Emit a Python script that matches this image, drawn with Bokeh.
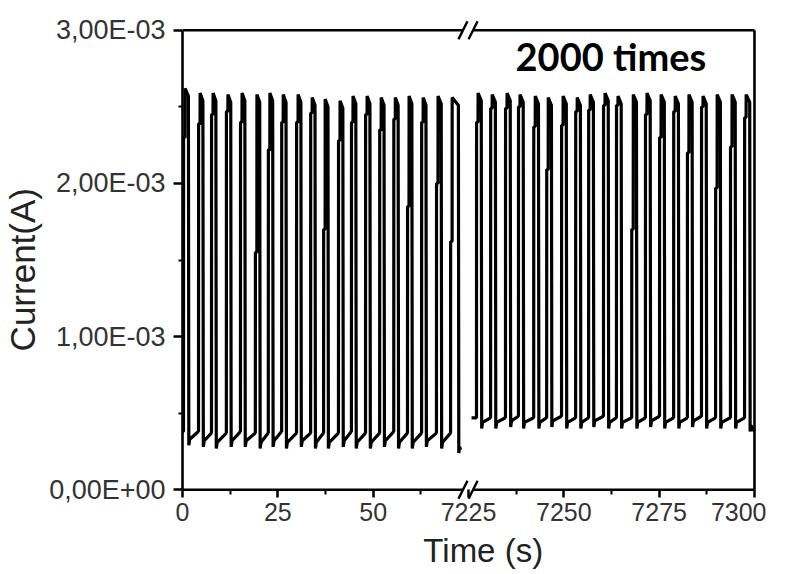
import numpy as np
from bokeh.plotting import figure
from bokeh.models import (FixedTicker, CustomJSTickFormatter, Range1d, Label)
from bokeh.embed import file_html
from bokeh.resources import INLINE

# ---------------- data ----------------
# Segment 1: 0 .. ~73 s   (current in A)
seg1_start = [0.26, 4.2, 7.6, 11.5, 15.2, 19.1, 22.5, 26.0, 29.9, 33.6,
              37.0, 40.9, 44.3, 48.0, 51.7, 55.4, 59.0, 62.7, 66.6, 70.3]
seg1_fall = [1.6, 5.4, 8.8, 12.7, 16.4, 20.3, 23.7, 27.2, 31.1, 34.8,
             38.2, 42.1, 45.5, 49.2, 52.9, 56.6, 60.2, 63.9, 67.9, 72.4]
seg1_mid = [2.30e-3, 2.39e-3, 2.45e-3, 2.47e-3, 2.40e-3, 1.55e-3, 2.22e-3, 2.40e-3, 2.40e-3, 2.46e-3,
            1.70e-3, 2.28e-3, 2.40e-3, 2.45e-3, 2.35e-3, 2.42e-3, 1.85e-3, 2.40e-3, 2.00e-3, 1.62e-3]
seg1_peak = [2.62e-3, 2.59e-3, 2.59e-3, 2.58e-3, 2.59e-3, 2.58e-3, 2.59e-3, 2.58e-3, 2.58e-3, 2.56e-3,
             2.55e-3, 2.54e-3, 2.57e-3, 2.57e-3, 2.56e-3, 2.56e-3, 2.57e-3, 2.56e-3, 2.57e-3, 2.56e-3]
seg1_low = [0.29e-3, 0.28e-3, 0.27e-3, 0.28e-3, 0.28e-3, 0.27e-3, 0.28e-3, 0.27e-3, 0.28e-3, 0.27e-3,
            0.27e-3, 0.28e-3, 0.27e-3, 0.27e-3, 0.28e-3, 0.27e-3, 0.27e-3, 0.28e-3, 0.27e-3, 0.24e-3]
seg1_rec = [0.38e-3, 0.37e-3, 0.37e-3, 0.38e-3, 0.37e-3, 0.37e-3, 0.38e-3, 0.37e-3, 0.37e-3, 0.37e-3,
            0.37e-3, 0.38e-3, 0.37e-3, 0.37e-3, 0.38e-3, 0.37e-3, 0.37e-3, 0.37e-3, 0.37e-3, 0.26e-3]
seg1_end = 72.9

# Segment 2: 7225 .. 7300 s
seg2_start = [7227.1, 7230.8, 7234.7, 7238.1, 7242.1, 7245.5, 7249.4, 7253.1, 7256.5, 7260.4,
              7263.8, 7267.8, 7271.4, 7275.1, 7278.8, 7282.4, 7286.1, 7289.8, 7293.7, 7297.4]
seg2_fall = [7228.4, 7232.1, 7236.0, 7239.4, 7243.4, 7246.8, 7250.7, 7254.4, 7257.8, 7261.7,
             7265.1, 7269.1, 7272.7, 7276.4, 7280.1, 7283.7, 7287.4, 7291.1, 7295.0, 7298.8]
seg2_mid = [2.40e-3, 2.49e-3, 2.49e-3, 2.50e-3, 2.37e-3, 2.09e-3, 2.38e-3, 2.47e-3, 2.48e-3, 2.51e-3,
            2.51e-3, 1.70e-3, 2.45e-3, 2.30e-3, 2.47e-3, 2.20e-3, 2.50e-3, 1.97e-3, 2.24e-3, 2.43e-3]
seg2_peak = [2.59e-3, 2.58e-3, 2.59e-3, 2.58e-3, 2.57e-3, 2.56e-3, 2.57e-3, 2.56e-3, 2.58e-3, 2.59e-3,
             2.57e-3, 2.58e-3, 2.59e-3, 2.58e-3, 2.57e-3, 2.58e-3, 2.57e-3, 2.58e-3, 2.58e-3, 2.58e-3]
seg2_low = [0.40e-3, 0.40e-3, 0.41e-3, 0.40e-3, 0.40e-3, 0.41e-3, 0.40e-3, 0.40e-3, 0.41e-3, 0.40e-3,
            0.40e-3, 0.40e-3, 0.41e-3, 0.40e-3, 0.40e-3, 0.41e-3, 0.40e-3, 0.40e-3, 0.40e-3, 0.38e-3]
seg2_rec = [0.47e-3, 0.47e-3, 0.48e-3, 0.47e-3, 0.47e-3, 0.48e-3, 0.47e-3, 0.47e-3, 0.48e-3, 0.47e-3,
            0.47e-3, 0.47e-3, 0.48e-3, 0.47e-3, 0.47e-3, 0.48e-3, 0.47e-3, 0.47e-3, 0.47e-3, 0.38e-3]
seg2_end = 7300.0

x_tick_values = [0, 25, 50, 7225, 7250, 7275, 7300]
y_tick_values = [0.0, 1e-3, 2e-3, 3e-3]
BREAK_SHIFT = 7150  # broken axis: 7225 s sits where 75 s would be
X_MAX = 150.0        # 7300 s on the broken axis
Y_MAX = 3e-3

# ---------------- build traces ----------------
def trace(start, fall, mid, peak, low, rec, t_end, t_begin, y_begin):
    ts, ys = [t_begin], [y_begin]
    for i in range(len(start)):
        s, f = start[i], fall[i]
        ts += [s, s + 0.02, s + 0.4, s + 0.42, f - 0.05, f + 0.06, f + 0.3]
        ys += [ys[-1], mid[i], mid[i], peak[i], peak[i] - 0.05e-3, low[i], low[i] + 0.04e-3]
        nxt = start[i + 1] if i + 1 < len(start) else t_end
        ts.append(nxt - 0.02)
        ys.append(rec[i])
    return np.array(ts), np.array(ys)

t1, c1 = trace(seg1_start, seg1_fall, seg1_mid, seg1_peak, seg1_low, seg1_rec,
               seg1_end, 0.0, seg1_rec[0])
t2, c2 = trace(seg2_start, seg2_fall, seg2_mid, seg2_peak, seg2_low, seg2_rec,
               seg2_end, 7225.8, seg2_rec[0])
u1 = t1
u2 = t2 - BREAK_SHIFT

# ---------------- figure ----------------
# the ranges carry a small pad so that the frame box and the break marks
# are drawn completely inside the plotting area
YPAD = 0.07e-3
XPAD = 0.53
p = figure(frame_width=574, frame_height=481, output_backend="svg",
           toolbar_location=None,
           x_range=Range1d(0, X_MAX + XPAD), y_range=Range1d(-YPAD, Y_MAX + YPAD),
           min_border_left=176, min_border_top=19, min_border_right=10,
           min_border_bottom=10)
p.background_fill_color = "white"
p.border_fill_color = "white"
p.grid.visible = False
p.outline_line_color = None

p.line(u1, c1, line_color="black", line_width=3.2)
p.line(u2, c2, line_color="black", line_width=3.2)

# frame box (top, bottom with a gap at the break, right side)
s1, s2 = 73.55, 76.2   # centres of the two break slashes
box_lw = 2.6
for yb in (0.0, Y_MAX):
    p.line([0, s1], [yb, yb], line_color="black", line_width=box_lw)
    p.line([s2, X_MAX], [yb, yb], line_color="black", line_width=box_lw)
    p.segment(x0=[s1 - 1.18, s2 - 1.18], y0=[yb - 0.059e-3] * 2,
              x1=[s1 + 1.18, s2 + 1.18], y1=[yb + 0.059e-3] * 2,
              line_color="black", line_width=2.4)
p.line([X_MAX, X_MAX], [0, Y_MAX], line_color="black", line_width=box_lw)

tick_u = [v if v < 1000 else v - BREAK_SHIFT for v in x_tick_values]
minor_u = [(a + b) / 2 for a, b in zip(tick_u[:-1], tick_u[1:])]
p.xaxis.ticker = FixedTicker(ticks=tick_u, minor_ticks=minor_u)
p.xaxis.formatter = CustomJSTickFormatter(
    args=dict(shift=BREAK_SHIFT),
    code="return String(Math.round(tick < 74 ? tick : tick + shift));")
p.yaxis.ticker = FixedTicker(ticks=y_tick_values,
                             minor_ticks=[0.5e-3, 1.5e-3, 2.5e-3])
p.yaxis.formatter = CustomJSTickFormatter(code="""
const s = tick.toExponential(2);
const parts = s.split('e');
const e = parseInt(parts[1]);
const sign = e < 0 ? '-' : '+';
const ea = String(Math.abs(e)).padStart(2, '0');
return parts[0].replace('.', ',') + 'E' + sign + ea;
""")
p.yaxis.bounds = (0, Y_MAX)

for ax in (p.xaxis[0], p.yaxis[0]):
    ax.axis_line_color = "black"
    ax.axis_line_width = box_lw
    ax.major_tick_line_color = "black"
    ax.major_tick_line_width = 2.5
    ax.minor_tick_line_color = "black"
    ax.minor_tick_line_width = 2.0
    ax.major_label_text_font = "Liberation Sans"
    ax.major_label_text_color = "#333333"
    ax.axis_label_text_font = "Liberation Sans"
    ax.axis_label_text_font_style = "normal"
    ax.axis_label_text_color = "#222222"

p.xaxis.axis_line_color = None
# x ticks start on the box line, which sits YPAD above the frame edge
p.xaxis.major_tick_in = 11
p.xaxis.major_tick_out = -3
p.xaxis.minor_tick_in = 11
p.xaxis.minor_tick_out = -6
p.yaxis.major_tick_in = 0
p.yaxis.minor_tick_in = 0
p.yaxis.major_tick_out = 9
p.yaxis.minor_tick_out = 4
p.xaxis.major_label_text_font_size = "25px"
p.yaxis.major_label_text_font_size = "27px"
p.xaxis.major_label_standoff = 5
p.yaxis.major_label_standoff = 8
p.xaxis.axis_label = "\u00a0\u00a0\u00a0Time (s)"
p.xaxis.axis_label_text_font_size = "33px"
p.xaxis.axis_label_standoff = 8
p.yaxis.axis_label = "Current(A)\u00a0\u00a0"
p.yaxis.axis_label_text_font_size = "35px"
p.yaxis.axis_label_standoff = 4

p.add_layout(Label(x=87.35, y=2.83e-3, text="2000 times", text_font="Lato",
                   text_font_style="bold", text_font_size="38px",
                   text_color="black", text_baseline="middle"))

open("out.html", "w").write(file_html(p, INLINE))
